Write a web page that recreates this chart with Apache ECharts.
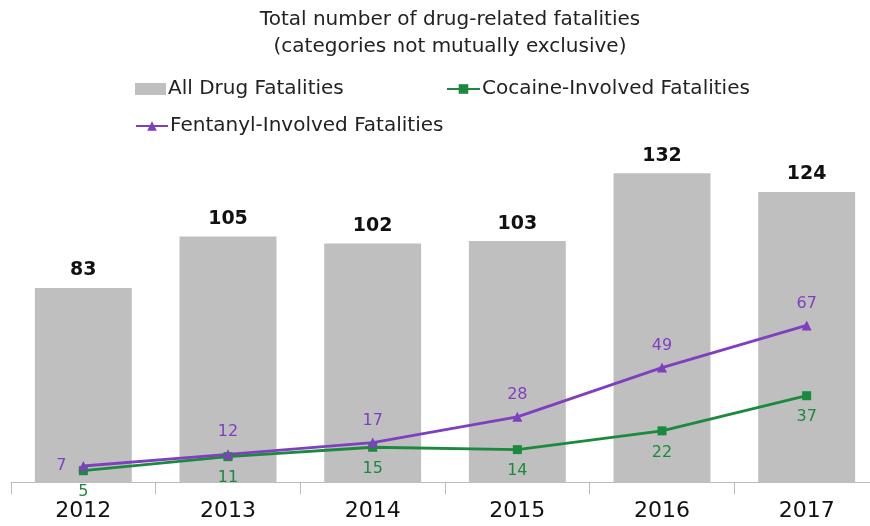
<!DOCTYPE html>
<html><head><meta charset="utf-8">
<script src="https://cdn.jsdelivr.net/npm/echarts@6/dist/echarts.min.js"></script>
<style>html,body{margin:0;padding:0;background:#fff}#c{width:870px;height:526px}</style>
</head><body><div id="c"></div>
<script>
var years = ['2012','2013','2014','2015','2016','2017'];
var allDrug = [83,105,102,103,132,124];
var cocaine = [5,11,15,14,22,37];
var fentanyl = [7,12,17,28,49,67];
var FONT = 'DejaVu Sans';
var chart = echarts.init(document.getElementById('c'), null, {renderer:'canvas'});
chart.setOption({
  animation:false,
  textStyle:{fontFamily:FONT},
  title:{text:'Total number of drug-related fatalities\n(categories not mutually exclusive)',left:445,textAlign:'center',top:1,
    textStyle:{fontFamily:FONT,fontSize:20,fontWeight:'normal',color:'#222',lineHeight:27}},
  legend:[
    {data:[{name:'All Drug Fatalities',icon:'rect'}],left:130,top:74,itemWidth:31,itemHeight:12,
      textStyle:{fontFamily:FONT,fontSize:20,color:'#222',padding:[0,0,0,-3]}},
    {data:['Cocaine-Involved Fatalities'],left:441,top:74,itemWidth:33,itemHeight:12,
      textStyle:{fontFamily:FONT,fontSize:20,color:'#222',padding:[0,0,0,-3]}},
    {data:['Fentanyl-Involved Fatalities'],left:130,top:111,itemWidth:32,itemHeight:12,
      textStyle:{fontFamily:FONT,fontSize:20,color:'#222',padding:[0,0,0,-3]}}
  ],
  grid:{left:11,right:-9,top:154.4,bottom:43.6,outerBoundsMode:'none',containLabel:false},
  xAxis:{type:'category',data:years,
    axisLine:{lineStyle:{color:'#bbb',width:1}},
    axisTick:{show:true,length:12,lineStyle:{color:'#bbb'}},
    axisLabel:{fontFamily:FONT,fontSize:22,color:'#111',margin:18}},
  yAxis:{type:'value',min:0,max:140,show:false,splitLine:{show:false}},
  series:[
    {name:'All Drug Fatalities',type:'bar',data:allDrug,barCategoryGap:'33%',
      itemStyle:{color:'#BFBFBF'},
      label:{show:true,position:'top',distance:8,fontFamily:FONT,fontSize:19,fontWeight:'bold',color:'#111'}},
    {name:'Cocaine-Involved Fatalities',type:'line',data:cocaine,symbol:'rect',symbolSize:9,
      itemStyle:{color:'#1B8A3E'},lineStyle:{color:'#1B8A3E',width:2.8},
      label:{show:true,position:'bottom',distance:9,fontFamily:FONT,fontSize:16,color:'#1B8A3E'}},
    {name:'Fentanyl-Involved Fatalities',type:'line',data:fentanyl.map(function(v,i){
        return i===0?{value:v,label:{position:'left',distance:12}}:v;}),
      symbol:'triangle',symbolSize:10,
      itemStyle:{color:'#7F3FBF'},lineStyle:{color:'#7F3FBF',width:2.8},
      label:{show:true,position:'top',distance:9,fontFamily:FONT,fontSize:16,color:'#7F3FBF'}}
  ]
});
</script></body></html>
